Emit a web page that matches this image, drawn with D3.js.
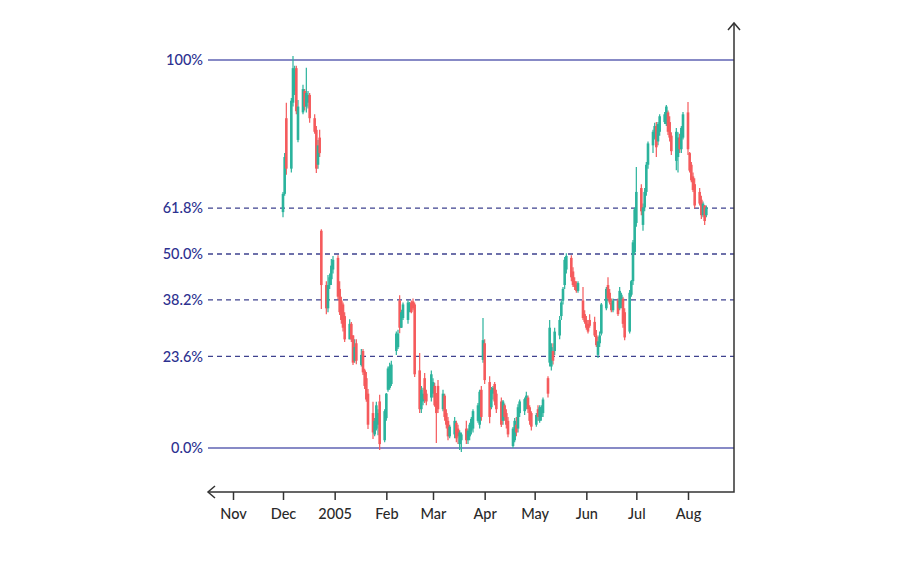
<!DOCTYPE html>
<html><head><meta charset="utf-8">
<script src="https://cdn.jsdelivr.net/npm/d3@7"></script>
<style>
body{margin:0;background:#fff}
svg{display:block}
text{font-family:Lato,"Open Sans","DejaVu Sans",sans-serif}
</style>
</head><body>
<svg id="chart" width="900" height="585"></svg>
<script>
// ---- data (percent of the retracement range) ----
const dates = [
 "2004-12-01","2004-12-02","2004-12-03","2004-12-06","2004-12-07","2004-12-08","2004-12-09","2004-12-10","2004-12-13","2004-12-14","2004-12-15","2004-12-16","2004-12-17","2004-12-20","2004-12-21","2004-12-22","2004-12-23","2004-12-24","2004-12-27","2004-12-28","2004-12-29","2004-12-30","2004-12-31",
 "2005-01-03","2005-01-04","2005-01-05","2005-01-06","2005-01-07","2005-01-10","2005-01-11","2005-01-12","2005-01-13","2005-01-14","2005-01-17","2005-01-18","2005-01-19","2005-01-20","2005-01-21","2005-01-24","2005-01-25","2005-01-26","2005-01-27","2005-01-28","2005-01-31",
 "2005-02-01","2005-02-02","2005-02-03","2005-02-04","2005-02-07","2005-02-08","2005-02-09","2005-02-10","2005-02-11","2005-02-14","2005-02-15","2005-02-16","2005-02-17","2005-02-18","2005-02-21","2005-02-22","2005-02-23","2005-02-24","2005-02-25","2005-02-28",
 "2005-03-01","2005-03-02","2005-03-03","2005-03-04","2005-03-07","2005-03-08","2005-03-09","2005-03-10","2005-03-11","2005-03-14","2005-03-15","2005-03-16","2005-03-17","2005-03-18","2005-03-21","2005-03-22","2005-03-23","2005-03-24","2005-03-25","2005-03-28","2005-03-29","2005-03-30","2005-03-31",
 "2005-04-01","2005-04-04","2005-04-05","2005-04-06","2005-04-07","2005-04-08","2005-04-11","2005-04-12","2005-04-13","2005-04-14","2005-04-15","2005-04-18","2005-04-19","2005-04-20","2005-04-21","2005-04-22","2005-04-25","2005-04-26","2005-04-27","2005-04-28","2005-04-29",
 "2005-05-02","2005-05-03","2005-05-04","2005-05-05","2005-05-06","2005-05-09","2005-05-10","2005-05-11","2005-05-12","2005-05-13","2005-05-16","2005-05-17","2005-05-18","2005-05-19","2005-05-20","2005-05-23","2005-05-24","2005-05-25","2005-05-26","2005-05-27","2005-05-30","2005-05-31",
 "2005-06-01","2005-06-02","2005-06-03","2005-06-06","2005-06-07","2005-06-08","2005-06-09","2005-06-10","2005-06-13","2005-06-14","2005-06-15","2005-06-16","2005-06-17","2005-06-20","2005-06-21","2005-06-22","2005-06-23","2005-06-24","2005-06-27","2005-06-28","2005-06-29","2005-06-30",
 "2005-07-01","2005-07-04","2005-07-05","2005-07-06","2005-07-07","2005-07-08","2005-07-11","2005-07-12","2005-07-13","2005-07-14","2005-07-15","2005-07-18","2005-07-19","2005-07-20","2005-07-21","2005-07-22","2005-07-25","2005-07-26","2005-07-27","2005-07-28","2005-07-29",
 "2005-08-01","2005-08-02","2005-08-03","2005-08-04","2005-08-05","2005-08-08","2005-08-09","2005-08-10","2005-08-11","2005-08-12"
];
const open = [
 60.8,65.5,85,72,89,92,97.9,79.4,86.5,92,88,89,91,85,82,73,80,56,42,36,42,43.5,46,
 49,41,38,37,34,28,32,29,22.5,27,21.4,25,20,18,14,9,3.5,5,6,12,2,
 7.7,15,15.5,16.5,25,26,38,31,33.5,33,35.5,37.5,37.8,37,20,10,12,18,14,13,
 14,16,12,16,10,13.5,9,7,3,3.5,6.5,5,1,2,5,2,3,4.5,5,7,6,15,22.7,
 27,17,10.5,14,16.5,14,12,7,11,9,7,0.5,2,6,5,9,9.5,11,13,10.5,9,
 6,10,7,8,9,18,22,21,25,25,29,34,38,42,46,49,45.5,43,42,40.5,38,34.5,
 33,32,33,32.5,29,24,27,29.5,36,42,40,37.5,35.5,38,36,37,38.5,35,30,39.5,43,50.5,
 58,67,57.5,62,66,73,78,80,83,79,81.5,84,83.5,86.5,84,80.5,74,75,80,77,80,
 86.5,76,73,70,68,66,64,60,62.5,60
];
const high = [
 66,76,89,90.2,101,98.5,98.5,89.7,93.6,92.5,98,92,91.5,86,83,79.4,82,56.4,43,44.6,45,48.7,49.5,
 49.7,43,39,37.5,35,33.2,32.5,29.1,28,28,25.5,25.5,20.4,19.6,15.2,11.9,7.7,11.9,10,13.7,10,
 14.2,21,22,22.5,30,30.5,39.4,35.6,37.5,38.1,37.6,38,38.5,37.5,24.5,16,15.5,19.3,15,20,
 18,16.8,14.2,17.5,15,14,10,8,6,8,7,6,4.6,4,7,5,6.5,8,10,11.6,15,16,33.5,
 28,18.5,15.7,16,17,15,13,12.4,11.5,10,8,5.4,7.7,8,11.3,12.5,13,14.5,13.5,11,9.5,
 9,11,11,11,13,18.5,33,27,27,31,34,38,41.5,49.2,50.2,49.7,46.6,44,43,43,41.5,35.5,
 34,33,34.5,33.8,30.4,28.6,30,37.4,41.5,44,41,38.5,38.5,38.5,41.5,40,39,36,40.7,43.3,53.6,62,
 72.4,68,63,67,73.7,79,82,83.8,84,84,86,86.6,88.4,87,85.5,81.4,82.5,81.4,81,83,86.6,
 89.2,76.3,73.7,71,69.5,67,65,63.5,62.6,62.5
];
const low = [
 59.5,65,70.4,71,88,91,86,78.8,86,87,86.5,87.5,83.8,81,70.9,72,75,35.8,34.5,35,41,42,45,
 38.4,34.3,32,30,27.3,28,27.3,21.4,22,21.6,21,18.8,15.2,11.9,4.9,2.3,3,4.5,3.3,-0.5,1.5,
 7,14.5,15,16,24,25.5,29.6,30.9,33,32,35,34.7,35.5,18.3,9,9,11,11.6,11,12,
 13,10.6,1.3,9,9.5,7,5,2,2.5,2.5,1.5,1,-0.5,-1,1,1,2,3.5,4,6.5,5,7,22,
 16.5,6.4,10,12.5,11,9,5.4,6,7,5,2.8,0,1.5,3,4,8,8.5,10,9,6,4.5,
 5.5,7,6.5,7,8,13,21,20,21.5,24,28,33,37,41,45,43,41.5,40.7,40,40,33,32,
 30.5,29.5,31,28.6,26,23.2,26,29,35.5,38,37,35,35,34,35.5,36,31,27.8,29.5,39,42,50,
 57,60,56,61,65,72,76,79.5,75,78,80.5,83.5,83,80.7,79,75.5,71.6,71,76,76,79.5,
 75.5,71,68.5,66,61.8,62.5,59,59.5,57.5,59.5
];
const close = [
 65.5,75,72,89.5,97.9,97.5,86.8,88,92.5,88,91.5,91,85,81.5,72,78,76,42,36,42,44,47,48.5,
 39,35,33,31,28,32,28,22,26,22.5,24,19.5,16,12.5,6,4,7,11,9,1,9.5,
 14,20.5,21,21.5,29.5,29.5,31,35,37,37.5,37,35,36,19,10,15,14,12.5,12,19,
 17,11,9,10,14,8,6,3,5.5,7,2.5,3,4,3.5,2,4.5,6,7.5,9.5,11,14.5,8,27.8,
 17.5,8,15,15.5,12,10,6,12,8,6,3.5,5,7,4,10.5,12,12.6,13.5,10,7,5.5,
 8.5,8,10.5,10.5,12.5,14,31,26,22.5,30,33,37.5,41,48.5,49.5,44,42,41.5,40.5,42.5,33.5,32.5,
 31,30,31.5,29,26.5,27.5,29,37,41,38.5,37.5,35.5,38,34.5,40.5,39.5,32,28.5,40,43,53,61.5,
 66,61,62,66,73,78.5,81.5,83,77.5,83.5,85.5,86,88,81.5,80,76.5,81.5,80,77,82.5,86,
 77,71.5,69,66.5,62.5,63,60,63,58.5,62
];
const monthTicks = ["2004-11-01","2004-12-01","2005-01-01","2005-02-01","2005-03-01","2005-04-01","2005-05-01","2005-06-01","2005-07-01","2005-08-01"];
const monthLabels = ["Nov","Dec","2005","Feb","Mar","Apr","May","Jun","Jul","Aug"];
const levels = [100, 61.8, 50, 38.2, 23.6, 0];
const levelLabels = ["100%","61.8%","50.0%","38.2%","23.6%","0.0%"];

// ---- drawing ----
const UP = "#2bb39c", DOWN = "#f55a5c";
const parse = d3.utcParse("%Y-%m-%d");
const svg = d3.select("#chart");

const x = d3.scaleUtc()
  .domain([parse("2004-11-01"), parse("2005-08-01")])
  .range([233, 688]);
const y = d3.scaleLinear().domain([0, 100]).range([448, 60]);

const plotLeft = 208, plotRight = 734, axisY = 492, axisTop = 23;

// level lines
const lv = svg.append("g");
lv.selectAll("line").data(levels).join("line")
  .attr("x1", plotLeft).attr("x2", plotRight)
  .attr("y1", d => y(d)).attr("y2", d => y(d))
  .attr("stroke", d => (d === 0 || d === 100) ? "#5f63b3" : "#3e428f")
  .attr("stroke-width", d => (d === 0 || d === 100) ? 1.6 : 1.3)
  .attr("stroke-dasharray", d => (d === 0 || d === 100) ? null : "5,4");
lv.selectAll("text").data(levels).join("text")
  .attr("x", 203).attr("y", d => y(d)).attr("dy", "0.36em")
  .attr("text-anchor", "end").attr("font-size", 14.5).attr("font-weight", 500)
  .attr("fill", "#2c3190")
  .text((d, i) => levelLabels[i]);

// candles
const data = dates.map((d, i) => ({date: parse(d), o: open[i], h: high[i], l: low[i], c: close[i]}));
const cg = svg.append("g");
const col = d => d.c >= d.o ? UP : DOWN;
cg.selectAll("line").data(data).join("line")
  .attr("x1", d => x(d.date)).attr("x2", d => x(d.date))
  .attr("y1", d => y(d.h)).attr("y2", d => y(d.l))
  .attr("stroke", col).attr("stroke-width", 1.2);
cg.selectAll("rect").data(data).join("rect")
  .attr("x", d => x(d.date) - 1.3).attr("width", 2.6)
  .attr("y", d => y(Math.max(d.o, d.c)))
  .attr("height", d => Math.max(1, Math.abs(y(d.o) - y(d.c))))
  .attr("fill", col);

// x axis
const xAxis = d3.axisBottom(x)
  .tickValues(monthTicks.map(parse))
  .tickFormat((d, i) => monthLabels[i])
  .tickSize(8).tickPadding(9).tickSizeOuter(0);
const gx = svg.append("g").attr("transform", `translate(0,${axisY})`).call(xAxis);
gx.select(".domain").remove();
gx.selectAll(".tick line").attr("stroke", "#333").attr("stroke-width", 1.5);
gx.selectAll(".tick text").attr("font-size", 14.5).attr("font-weight", 500).attr("fill", "#2a2a2a")
  .attr("font-family", 'Lato,"Open Sans",sans-serif');

// axis lines with arrows
const ax = svg.append("g").attr("stroke", "#333").attr("stroke-width", 1.5).attr("fill", "none");
ax.append("path").attr("d", `M${plotLeft},${axisY}H${plotRight}V${axisTop}`);
ax.append("path").attr("d", `M${plotRight-6},${axisTop+7}L${plotRight},${axisTop}L${plotRight+6},${axisTop+7}`);
ax.append("path").attr("d", `M${plotLeft+7},${axisY-6}L${plotLeft},${axisY}L${plotLeft+7},${axisY+6}`);
</script>
</body></html>
